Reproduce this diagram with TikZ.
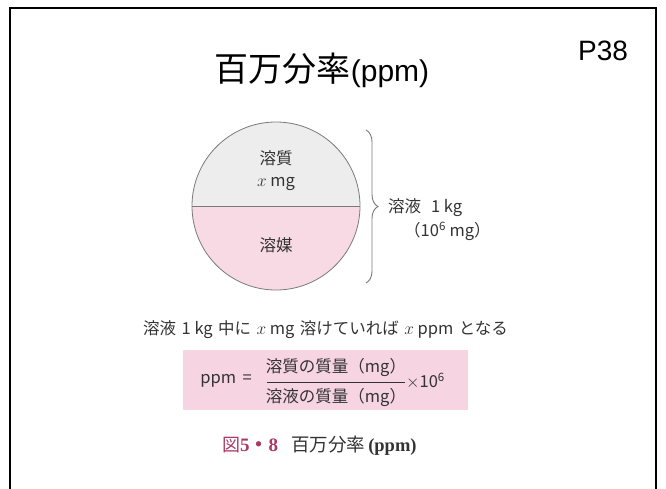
\documentclass[tikz,border=0pt]{standalone}
\usepackage{fontspec}
\setmainfont{Liberation Sans}
\newfontfamily\jp{Noto Sans CJK JP}
\newfontfamily\serifrm{Liberation Serif}
\usetikzlibrary{decorations.pathreplacing}
\definecolor{topgray}{HTML}{EDEDED}
\definecolor{botpink}{HTML}{F8DAE5}
\definecolor{boxpink}{HTML}{F6D4E2}
\definecolor{figtext}{HTML}{333333}
\definecolor{capred}{HTML}{A83A64}
\definecolor{edgegray}{HTML}{7A7A7A}
\tikzset{
  figlabel/.style={text=figtext, inner sep=0pt, font=\jp\fontsize{16.5}{19}\selectfont},
  frameline/.style={line width=2.5pt, black},
}
\newcommand\wsp{\hspace{0.33em}}
\begin{document}
\begin{tikzpicture}[x=1pt,y=-1pt]
\useasboundingbox (0,0) rectangle (666,488);
% frame
\draw[frameline] (10,490) -- (10,8) -- (656,8) -- (656,490);
% title
\node[inner sep=0pt, anchor=base] (title) at (322,81) {{\jp\fontsize{34}{40}\selectfont 百万分率}{\fontsize{30}{36}\selectfont(ppm)}};
\node[inner sep=0pt, anchor=base] (page) at (603,60) {\fontsize{28}{32}\selectfont P38};
% circle
\coordinate (c) at (276,206);
\fill[topgray] (192,206) arc[start angle=180, end angle=360, radius=84] -- cycle;
\fill[botpink] (192,206) arc[start angle=180, end angle=0, radius=84] -- cycle;
\draw[edgegray, line width=0.8pt] (c) circle[radius=84];
\draw[edgegray, line width=0.8pt] (192,206) -- (360,206);
\node[figlabel] (solute) at (276,158) {溶質};
\node[figlabel] (xmg) at (276,184) {$x$ mg};
\node[figlabel] (solvent) at (276,245) {溶媒};
% brace
\draw[edgegray, line width=0.9pt, decorate, decoration={brace, amplitude=12pt}] (366,130) -- (366,283);
\node[figlabel, anchor=west] (sol) at (388,208) {溶液\hspace{0.6em}1 kg};
\node[figlabel, anchor=west] (mass) at (404,231) {（10\textsuperscript{6} mg）};
% sentence
\node[figlabel, anchor=west] (sentence) at (143,330) {溶液\wsp 1 kg\wsp 中に\wsp$x$ mg\wsp 溶けていれば\wsp$x$ ppm\wsp となる};
% formula box
\fill[boxpink] (183,350) rectangle (468,410);
\node[figlabel, anchor=east] (ppm) at (252,381) {ppm \,=};
\node[figlabel] (num) at (336,367) {溶質の質量（mg）};
\node[figlabel] (den) at (336,397) {溶液の質量（mg）};
\draw[figtext, line width=0.7pt] (267,382) -- (405,382);
\node[figlabel, anchor=west] (times) at (406,381) {$\times$10\textsuperscript{6}};
% caption
\node[inner sep=0pt, anchor=base west] (cap) at (222,451) {{\color{capred}\jp\fontsize{18}{21}\selectfont 図}{\color{capred}\serifrm\bfseries\fontsize{19}{21}\selectfont 5{\jp・}8}\hspace{1.3em}{\color{figtext}\jp\fontsize{18.5}{21}\selectfont 百万分率\,{\serifrm\bfseries (ppm)}}};
\end{tikzpicture}
\end{document}
